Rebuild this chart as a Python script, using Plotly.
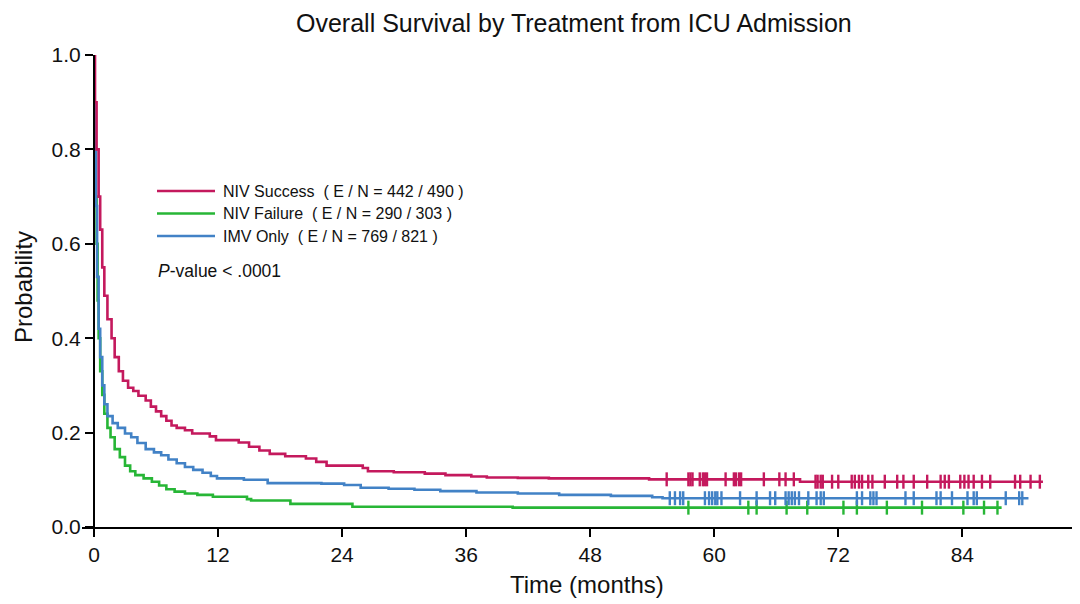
import numpy as np
import plotly.graph_objects as go

# ---------------- data ----------------
groups = ["NIV Success", "NIV Failure", "IMV Only"]
events = [442, 290, 769]
totals = [490, 303, 821]
colors = ["#C4195D", "#27B636", "#4282C6"]

# Kaplan-Meier step curves (time in months, survival probability)
ns_time = [0, 0.1, 0.25, 0.45, 0.6, 0.8, 1.0, 1.3, 1.7, 2.0, 2.4, 2.8, 3.3, 3.8, 4.3, 5.0,
           5.5, 6.0, 6.5, 7.0, 7.5, 8.0, 8.8, 9.5, 11.2, 11.8, 14.0, 15.0, 16.0, 17.0, 18.5,
           20.5, 21.5, 22.5, 26.0, 26.5, 29.0, 32.0, 34.0, 36.5, 38.0, 41.0, 44.0, 53.7, 68.3, 91.8]
ns_surv = [1.0, 0.9, 0.8, 0.7, 0.63, 0.55, 0.49, 0.44, 0.40, 0.36, 0.33, 0.31, 0.295, 0.288, 0.278, 0.268,
           0.255, 0.245, 0.235, 0.225, 0.215, 0.21, 0.205, 0.198, 0.192, 0.184, 0.179, 0.17, 0.162, 0.155, 0.150,
           0.145, 0.138, 0.130, 0.125, 0.118, 0.116, 0.113, 0.110, 0.107, 0.105, 0.104, 0.103, 0.101, 0.096, 0.096]

nf_time = [0, 0.03, 0.08, 0.15, 0.25, 0.35, 0.45, 0.6, 0.8, 1.0, 1.3, 1.6, 2.0, 2.5, 3.0, 3.5,
           4.0, 4.8, 5.6, 6.3, 7.0, 7.8, 8.8, 10.0, 11.5, 14.8, 15.2, 19.0, 25.0, 40.5, 87.8]
nf_surv = [1.0, 0.9, 0.8, 0.7, 0.6, 0.48, 0.40, 0.33, 0.28, 0.24, 0.21, 0.19, 0.165, 0.148, 0.13, 0.118,
           0.11, 0.103, 0.096, 0.088, 0.08, 0.075, 0.071, 0.068, 0.064, 0.059, 0.056, 0.049, 0.043, 0.041, 0.041]

imv_time = [0, 0.05, 0.12, 0.2, 0.3, 0.45, 0.6, 0.8, 1.0, 1.3, 1.8, 2.3, 3.0, 3.6, 4.2, 5.0,
            5.8, 6.5, 7.2, 8.0, 8.8, 9.6, 10.5, 11.3, 11.9, 14.5, 16.8, 22.0, 24.2, 25.8, 28.5,
            31.0, 33.5, 37.0, 41.0, 45.0, 50.0, 54.0, 55.0, 90.4]
imv_surv = [1.0, 0.9, 0.8, 0.68, 0.53, 0.42, 0.36, 0.30, 0.26, 0.235, 0.22, 0.21, 0.198, 0.19, 0.178, 0.165,
            0.158, 0.152, 0.143, 0.135, 0.127, 0.121, 0.115, 0.108, 0.103, 0.100, 0.093, 0.092, 0.089, 0.083, 0.081,
            0.079, 0.076, 0.073, 0.071, 0.068, 0.066, 0.063, 0.061, 0.061]

# censoring times (months)
ns_cens = [55.4, 57.5, 57.7, 57.9, 58.6, 58.9, 59.1, 59.3, 61.1, 61.9, 62.1, 62.4, 62.6, 64.8, 66.3,
           66.9, 67.7, 69.8, 70.0, 70.3, 70.5, 71.4, 72.0, 73.3, 73.6, 74.0, 74.3, 74.9, 75.3, 76.5,
           77.7, 78.3, 79.3, 80.6, 81.9, 82.3, 82.7, 83.8, 84.2, 84.6, 85.1, 85.9, 86.7, 89.1, 89.6,
           90.6, 91.5]
nf_cens = [57.5, 63.3, 64.1, 67.0, 69.0, 72.5, 73.8, 76.7, 80.1, 84.1, 86.1, 87.4]
imv_cens = [55.7, 56.2, 56.7, 57.0, 59.1, 59.5, 59.8, 60.1, 60.3, 60.7, 62.5, 64.1, 65.4, 65.9,
            66.9, 67.2, 67.5, 67.8, 68.2, 69.1, 69.9, 70.3, 70.6, 73.8, 74.3, 75.1, 75.4, 75.7,
            78.5, 79.3, 81.5, 81.9, 83.0, 84.5, 85.1, 85.4, 88.2, 89.5, 89.8]

x_ticks = [0, 12, 24, 36, 48, 60, 72, 84]
y_ticks = [0.0, 0.2, 0.4, 0.6, 0.8, 1.0]

title_text = "Overall Survival by Treatment from ICU Admission"
x_title = "Time (months)"
y_title = "Probability"
p_text = "<i>P</i>-value < .0001"

FONT = "Liberation Sans, Arial, Helvetica, sans-serif"

series = [
    (ns_time, ns_surv, ns_cens),
    (nf_time, nf_surv, nf_cens),
    (imv_time, imv_surv, imv_cens),
]


def step_value(times, surv, t):
    idx = np.searchsorted(np.asarray(times), t, side="right") - 1
    return np.asarray(surv)[idx]


fig = go.Figure()
for i in [1, 2, 0]:
    t, s, c = series[i]
    fig.add_trace(go.Scatter(
        x=t, y=s, mode="lines", line=dict(color=colors[i], width=2.6, shape="hv"),
        name=groups[i], showlegend=False, hoverinfo="skip"))
    cy = [float(step_value(t, s, ct)) for ct in c]
    fig.add_trace(go.Scatter(
        x=c, y=cy, mode="markers",
        marker=dict(symbol="line-ns", size=10, line=dict(color=colors[i], width=2.4)),
        showlegend=False, hoverinfo="skip"))

# screen-pixel helpers (page has 8px body margin)
x0_px, x1_px = 82, 1075
y0_px, y1_px = 55, 527
OFF = 8


def px_x(px):
    return (px - x0_px) / (x1_px - x0_px)


def px_y(py):
    return (y1_px - py) / (y1_px - y0_px)


legend_rows = [191, 213.5, 236]
shapes = []
annotations = []
for i, row in enumerate(legend_rows):
    shapes.append(dict(type="line", xref="paper", yref="paper",
                       x0=px_x(157), x1=px_x(215), y0=px_y(row), y1=px_y(row),
                       line=dict(color=colors[i], width=2.6)))
    annotations.append(dict(
        xref="paper", yref="paper", x=px_x(221), y=px_y(row),
        xanchor="left", yanchor="middle", showarrow=False,
        text=f"{groups[i]}  ( E / N = {events[i]} / {totals[i]} )",
        font=dict(family=FONT, size=16, color="#111111")))

annotations.append(dict(
    xref="paper", yref="paper", x=px_x(156), y=px_y(271),
    xanchor="left", yanchor="middle", showarrow=False, text=p_text,
    font=dict(family=FONT, size=17.5, color="#111111")))

annotations.append(dict(
    xref="paper", yref="paper", x=px_x(587), y=px_y(584),
    xanchor="center", yanchor="middle", showarrow=False, text=x_title,
    font=dict(family=FONT, size=24, color="#111111")))
annotations.append(dict(
    xref="paper", yref="paper", x=px_x(23), y=px_y(287),
    xanchor="center", yanchor="middle", showarrow=False, text=y_title, textangle=-90,
    font=dict(family=FONT, size=24, color="#111111")))
annotations.append(dict(
    xref="paper", yref="paper", x=px_x(574), y=px_y(23),
    xanchor="center", yanchor="middle", showarrow=False, text=title_text,
    font=dict(family=FONT, size=25, color="#111111")))

x_left = -1.16
x_right = 94.9

fig.update_layout(
    width=1080, height=604,
    margin=dict(l=x0_px - OFF, r=1080 - x1_px + OFF, t=y0_px - OFF, b=604 - y1_px + OFF),
    paper_bgcolor="white", plot_bgcolor="white",
    showlegend=False,
    shapes=shapes, annotations=annotations,
    xaxis=dict(range=[x_left, x_right], tickvals=x_ticks, ticktext=[str(v) for v in x_ticks],
               showgrid=False, zeroline=False, showline=True, linecolor="black", linewidth=2,
               ticks="outside", ticklen=8, tickwidth=2, tickcolor="black",
               tickfont=dict(family=FONT, size=21, color="#111111"), fixedrange=True),
    yaxis=dict(range=[0, 1], tickvals=y_ticks, ticktext=[f"{v:.1f}" for v in y_ticks],
               anchor="free", position=(0 - x_left) / (x_right - x_left),
               showgrid=False, zeroline=False, showline=True, linecolor="black", linewidth=2,
               ticks="outside", ticklen=8, tickwidth=2, tickcolor="black",
               tickfont=dict(family=FONT, size=21, color="#111111"), fixedrange=True),
)

fig.write_html("out.html")
